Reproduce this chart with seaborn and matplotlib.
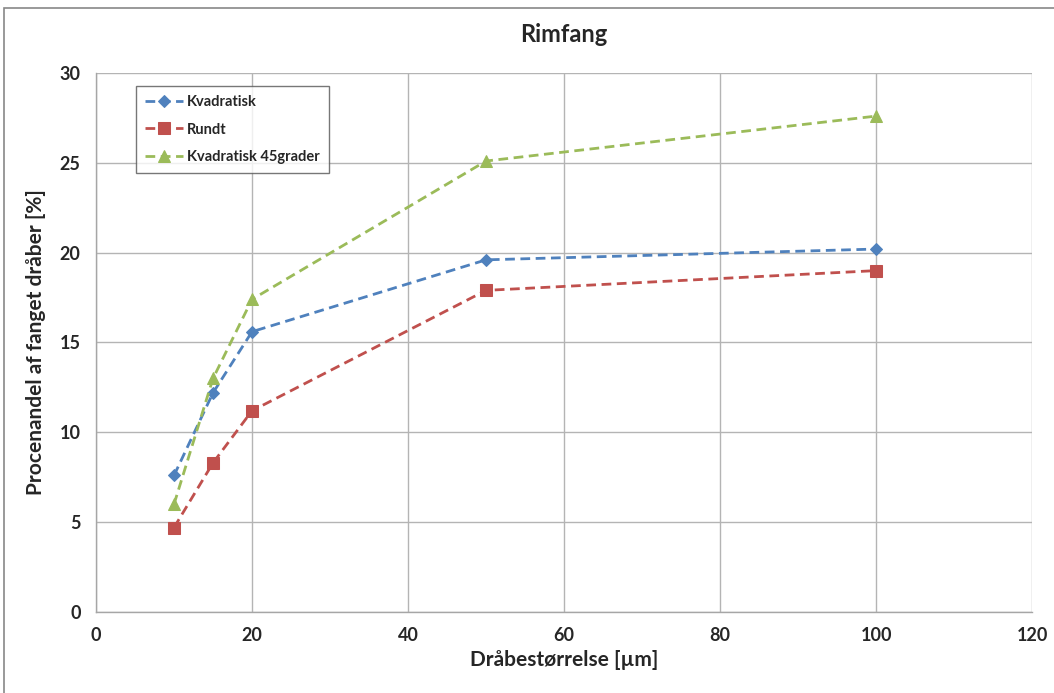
import numpy as np
import pandas as pd
import seaborn as sns
import matplotlib.pyplot as plt
from matplotlib.patches import Rectangle

# data
drop_size = [10, 15, 20, 50, 100]
kvadratisk = [7.6, 12.2, 15.6, 19.6, 20.2]
rundt = [4.7, 8.3, 11.2, 17.9, 19.0]
kvadratisk_45 = [6.0, 13.0, 17.4, 25.1, 27.6]
series_names = ['Kvadratisk', 'Rundt', 'Kvadratisk 45grader']
x_ticks = [0, 20, 40, 60, 80, 100, 120]
y_ticks = [0, 5, 10, 15, 20, 25, 30]

df = pd.DataFrame({
    'size': drop_size * 3,
    'value': kvadratisk + rundt + kvadratisk_45,
    'serie': [s for s in series_names for _ in drop_size],
})

palette = {'Kvadratisk': '#4F81BD', 'Rundt': '#C0504D', 'Kvadratisk 45grader': '#9BBB59'}
markers = {'Kvadratisk': 'D', 'Rundt': 's', 'Kvadratisk 45grader': '^'}
marker_sizes = {'Kvadratisk': 6, 'Rundt': 8, 'Kvadratisk 45grader': 8}

sns.set_style('white')
plt.rcParams['font.family'] = ['Lato', 'DejaVu Sans']
plt.rcParams['font.weight'] = 'bold'

fig = plt.figure(figsize=(10.54, 6.93), dpi=100)
ax = fig.add_axes([0.0911, 0.1169, 0.8881, 0.7778])

for name in series_names:
    sub = df[df['serie'] == name]
    sns.lineplot(data=sub, x='size', y='value', ax=ax, color=palette[name],
                 marker=markers[name], markersize=marker_sizes[name],
                 markeredgecolor=palette[name], linewidth=2,
                 linestyle=(0, (3.5, 2)), label=name, zorder=3)

ax.set_xlim(0, 120)
ax.set_ylim(0, 30)
ax.set_xticks(x_ticks)
ax.set_yticks(y_ticks)
ax.grid(True, color='#b4b4b4', linewidth=1)
ax.set_axisbelow(True)
for side in ['top', 'right']:
    ax.spines[side].set_visible(False)
for side in ['left', 'bottom']:
    ax.spines[side].set_color('#a6a6a6')
    ax.spines[side].set_linewidth(1)
ax.tick_params(axis='both', direction='out', length=5, color='#a6a6a6',
               labelsize=13, pad=6)
for lab in ax.get_xticklabels() + ax.get_yticklabels():
    lab.set_fontweight('bold')

ax.set_title('Rimfang', fontsize=17, fontweight='bold', pad=22)
ax.set_xlabel('Dråbestørrelse [µm]', fontsize=15, fontweight='bold', labelpad=4)
ax.set_ylabel('Procenandel af fanget dråber [%]', fontsize=15, fontweight='bold', labelpad=10)

leg = ax.legend(loc='upper left', bbox_to_anchor=(0.0427, 0.976), borderaxespad=0,
                fontsize=10.5, frameon=True, fancybox=False, borderpad=0.6,
                labelspacing=0.95, handlelength=2.6, handletextpad=0.3)
leg.get_frame().set_edgecolor('#555555')
leg.get_frame().set_linewidth(1)
for t in leg.get_texts():
    t.set_fontweight('bold')

# outer chart border
fig.patches.append(Rectangle((4 / 1054, -0.01), 1.05, 1 - 8 / 693 + 0.01,
                             transform=fig.transFigure, fill=False,
                             edgecolor='#888888', linewidth=1.2))

fig.savefig('out.png', dpi=100)
